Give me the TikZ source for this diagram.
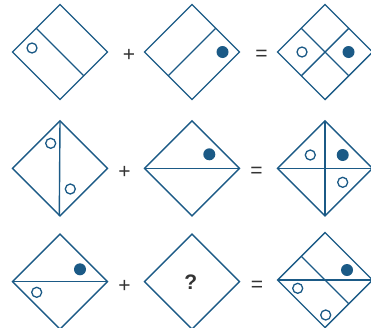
\documentclass[tikz,border=0pt]{standalone}
\usepackage{fontspec}
\setmainfont{Liberation Sans}
\usetikzlibrary{calc}
\definecolor{lineblue}{HTML}{1B5A86}
\definecolor{signgray}{HTML}{333333}
\begin{document}
\begin{tikzpicture}[x=1pt,y=-1pt,
  shapeline/.style={draw=lineblue,line width=1.4pt,line join=miter},
  opendot/.style={draw=lineblue,line width=1.3pt,fill=white},
  fulldot/.style={fill=lineblue},
  sign/.style={text=signgray,font=\fontsize{21}{21}\selectfont,inner sep=0pt},
  qmark/.style={text=signgray,font=\bfseries\fontsize{21}{21}\selectfont,inner sep=0pt}]
\useasboundingbox (0,0) rectangle (371,327);
\clip (0,0) rectangle (371,327);
\def\h{47.5}
% ---------- Row 1 ----------
% diamond 1
\coordinate (A1) at (60,52);
\draw[shapeline] ($(A1)+(0,-\h)$) -- ($(A1)+(\h,0)$) -- ($(A1)+(0,\h)$) -- ($(A1)+(-\h,0)$) -- cycle;
\draw[shapeline] ($(A1)+(-\h/2,-\h/2)$) -- ($(A1)+(\h/2,\h/2)$);
\draw[opendot] (32,48) circle (5);
% plus
\node[sign] (p1) at (129,55.5) {+};
% diamond 2
\coordinate (A2) at (192,52);
\draw[shapeline] ($(A2)+(0,-\h)$) -- ($(A2)+(\h,0)$) -- ($(A2)+(0,\h)$) -- ($(A2)+(-\h,0)$) -- cycle;
\draw[shapeline] ($(A2)+(\h/2,-\h/2)$) -- ($(A2)+(-\h/2,\h/2)$);
\fill[fulldot] (222.5,52) circle (6);
% equals
\node[sign] (e1) at (261.5,55) {=};
% diamond 3
\coordinate (A3) at (325,52);
\draw[shapeline] ($(A3)+(0,-\h)$) -- ($(A3)+(\h,0)$) -- ($(A3)+(0,\h)$) -- ($(A3)+(-\h,0)$) -- cycle;
\draw[shapeline] ($(A3)+(-\h/2,-\h/2)$) -- ($(A3)+(\h/2,\h/2)$);
\draw[shapeline] ($(A3)+(\h/2,-\h/2)$) -- ($(A3)+(-\h/2,\h/2)$);
\draw[opendot] (302,52) circle (5);
\fill[fulldot] (348.5,52) circle (6);
% ---------- Row 2 ----------
\coordinate (B1) at (60,168.3);
\draw[shapeline] ($(B1)+(0,-\h)$) -- ($(B1)+(\h,0)$) -- ($(B1)+(0,\h)$) -- ($(B1)+(-\h,0)$) -- cycle;
\draw[shapeline] ($(B1)+(0,-\h)$) -- ($(B1)+(-0.7,\h)$);
\draw[opendot] (50.7,143.3) circle (5);
\draw[opendot] (70.3,189) circle (5);
\node[sign] (p2) at (124.5,172.5) {+};
\coordinate (B2) at (192,168.3);
\draw[shapeline] ($(B2)+(0,-\h)$) -- ($(B2)+(\h,0)$) -- ($(B2)+(0,\h)$) -- ($(B2)+(-\h,0)$) -- cycle;
\draw[shapeline] ($(B2)+(-\h,0)$) -- ($(B2)+(\h,0)$);
\fill[fulldot] (209.3,154.3) circle (6);
\node[sign] (e2) at (256.5,172) {=};
\coordinate (B3) at (325,168.3);
\draw[shapeline] ($(B3)+(0,-\h)$) -- ($(B3)+(\h,0)$) -- ($(B3)+(0,\h)$) -- ($(B3)+(-\h,0)$) -- cycle;
\draw[shapeline] ($(B3)+(-\h,0)$) -- ($(B3)+(\h,0)$);
\draw[shapeline] ($(B3)+(0,-\h)$) -- ($(B3)+(0,\h)$);
\draw[opendot] (310.3,155) circle (5);
\fill[fulldot] (342.7,155) circle (6);
\draw[opendot] (342.7,182.3) circle (5);
% ---------- Row 3 ----------
\coordinate (C1) at (60,281.7);
\draw[shapeline] ($(C1)+(0,-\h)$) -- ($(C1)+(\h,0)$) -- ($(C1)+(0,\h)$) -- ($(C1)+(-\h,0)$) -- cycle;
\draw[shapeline] ($(C1)+(-\h,0)$) -- ($(C1)+(\h,0)$);
\fill[fulldot] (80,269.3) circle (6);
\draw[opendot] (36.7,292.3) circle (5);
\node[sign] (p3) at (124.5,286.5) {+};
\coordinate (C2) at (192,281.7);
\draw[shapeline] ($(C2)+(0,-\h)$) -- ($(C2)+(\h,0)$) -- ($(C2)+(0,\h)$) -- ($(C2)+(-\h,0)$) -- cycle;
\node[qmark] (q) at (190.7,282) {?};
\node[sign] (e3) at (257,286) {=};
\coordinate (C3) at (325,280);
\draw[shapeline] ($(C3)+(0,-\h)$) -- ($(C3)+(\h,0)$) -- ($(C3)+(0,\h)$) -- ($(C3)+(-\h,0)$) -- cycle;
\draw[shapeline] ($(C3)+(-\h,0)$) -- ($(C3)+(\h,0)$);
\draw[shapeline] ($(C3)+(-\h/2,-\h/2)$) -- ($(C3)+(\h/2,\h/2)$);
\fill[fulldot] (347,270) circle (6);
\draw[opendot] (297.7,288.3) circle (5);
\draw[opendot] (325.7,315) circle (5);
\end{tikzpicture}
\end{document}
